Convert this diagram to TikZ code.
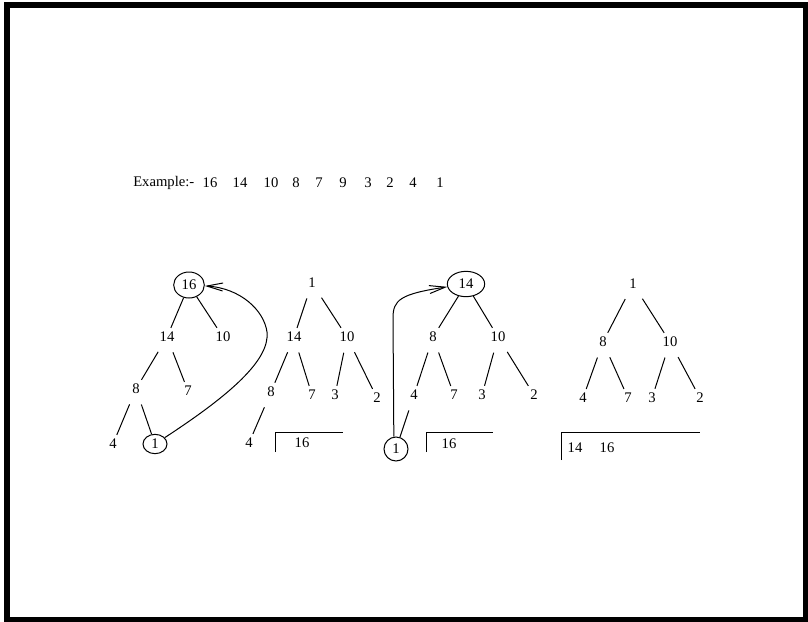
\documentclass[tikz,border=0pt]{standalone}
\usepackage{fontspec}
\setmainfont{Liberation Serif}
\usetikzlibrary{arrows.meta,shapes.geometric}

\begin{document}
\begin{tikzpicture}[x=0.75pt, y=-0.75pt,
  val/.style={inner sep=3pt, font=\fontsize{11}{13}\selectfont},
  ring/.style={val, draw, ellipse, line width=0.75pt, inner sep=0pt},
  ln/.style={line width=0.75pt, shorten <=5pt},
  lc/.style={line width=0.75pt},
  mv/.style={line width=0.75pt, -{Straight Barb[length=12pt,width=6pt]}},
  heap/.style={line width=0.75pt},
]
\useasboundingbox (0,0) rectangle (808,622);
\draw[line width=4.5pt] (6.5,4.5) rectangle (806,619.5);

% input list
\node[val, anchor=west] (ex) at (129,183) {Example:-};
\foreach \px/\v [count=\i] in {210/16,240/14,271/10,296/8,319/7,343/9,368/3,390/2,413/4,440/1}
  \node[val] (e\i) at (\px,183) {\v};

% first tree, root swapped with last leaf
\node[ring, minimum width=23pt, minimum height=19.5pt] (a16) at (189,285) {16};
\node[val] (a14) at (167,337) {14};
\node[val] (a10) at (223,337) {10};
\node[val] (a8)  at (136,389) {8};
\node[val] (a7)  at (188,391) {7};
\node[val] (a4)  at (113,444) {4};
\node[ring, minimum width=18pt, minimum height=14.5pt] (a1) at (155,444) {1};
\draw[lc] (a16) -- (a14);
\draw[lc] (a16) -- (a10);
\draw[ln] (a14) -- (a8);
\draw[ln] (a14) -- (a7);
\draw[ln] (a8) -- (a4);
\draw[ln] (a8) -- (a1);
\draw[mv] (a1) .. controls (230,395) and (270,360) .. (267,332)
               .. controls (264,310) and (240,288) .. (a16);

% second tree
\node[val] (b1)  at (312,283) {1};
\node[val] (b14) at (294,337) {14};
\node[val] (b10) at (347,337) {10};
\node[val] (b8)  at (271,392) {8};
\node[val] (b7)  at (312,395) {7};
\node[val] (b3)  at (335,395) {3};
\node[val] (b2)  at (377,398) {2};
\node[val] (b4)  at (249,443) {4};
\draw[ln] (b1) -- (b14);
\draw[ln] (b1) -- (b10);
\draw[ln] (b14) -- (b8);
\draw[ln] (b14) -- (b7);
\draw[ln] (b10) -- (b3);
\draw[ln] (b10) -- (b2);
\draw[ln] (b8) -- (b4);
\draw[heap] (275,452) -- (275,432) -- (343,432);
\node[val] (b16) at (302,443) {16};

% third tree
\node[ring, minimum width=28pt, minimum height=19pt] (c14) at (466,284) {14};
\node[val] (c8)  at (433,337) {8};
\node[val] (c10) at (498,337) {10};
\node[val] (c4)  at (414,395) {4};
\node[val] (c7)  at (454,395) {7};
\node[val] (c3)  at (482,395) {3};
\node[val] (c2)  at (534,395) {2};
\node[ring, minimum width=18pt, minimum height=18pt] (c1) at (396,449) {1};
\draw[lc] (c14) -- (c8);
\draw[lc] (c14) -- (c10);
\draw[ln] (c8) -- (c4);
\draw[ln] (c8) -- (c7);
\draw[ln] (c10) -- (c3);
\draw[ln] (c10) -- (c2);
\draw[ln] (c4) -- (c1);
\draw[mv] (c1.100) -- (393,318) .. controls (393,300) and (400,294) .. (c14);
\draw[heap] (426,452) -- (426,432) -- (493,432);
\node[val] (c16) at (449,444) {16};

% fourth tree
\node[val] (d1)  at (633,284) {1};
\node[val] (d8)  at (603,342) {8};
\node[val] (d10) at (670,342) {10};
\node[val] (d4)  at (583,398) {4};
\node[val] (d7)  at (628,398) {7};
\node[val] (d3)  at (652,398) {3};
\node[val] (d2)  at (700,398) {2};
\draw[ln] (d1) -- (d8);
\draw[ln] (d1) -- (d10);
\draw[ln] (d8) -- (d4);
\draw[ln] (d8) -- (d7);
\draw[ln] (d10) -- (d3);
\draw[ln] (d10) -- (d2);
\draw[heap] (561,460) -- (561,432) -- (700,432);
\node[val] (d14) at (575,448) {14};
\node[val] (d16) at (607,448) {16};
\end{tikzpicture}
\end{document}
